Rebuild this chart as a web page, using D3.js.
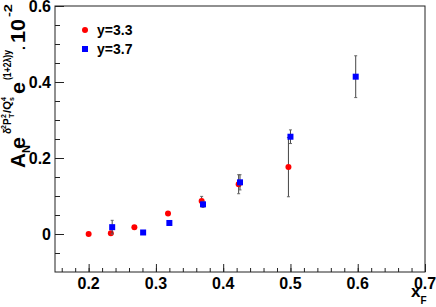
<!DOCTYPE html>
<html>
<head>
<meta charset="utf-8">
<script src="https://cdn.jsdelivr.net/npm/d3@7"></script>
<style>
  html, body { margin: 0; padding: 0; background: #fff; }
  svg { display: block; font-family: "Liberation Sans", Arial, sans-serif; font-weight: bold; }
</style>
</head>
<body>
<div id="chart"></div>
<script>
// values
const seriesNames = ["y=3.3", "y=3.7"]
const redX = [0.200, 0.233, 0.268, 0.318, 0.368, 0.423, 0.497]
const redY = [0.000, 0.002, 0.018, 0.054, 0.087, 0.131, 0.176]
const redErr = [0.003, 0.004, 0.004, 0.005, 0.012, 0.025, 0.078]
const blueX = [0.235, 0.281, 0.320, 0.370, 0.425, 0.500, 0.597]
const blueY = [0.018, 0.004, 0.029, 0.078, 0.136, 0.256, 0.414]
const blueErr = [0.018, 0.004, 0.005, 0.008, 0.020, 0.018, 0.055]
const xTicks = [0.2, 0.3, 0.4, 0.5, 0.6, 0.7]
const yTicks = [0, 0.2, 0.4, 0.6]

const W = 436, H = 307
const margin = { top: 6, right: 11, bottom: 35, left: 55 }

const svg = d3.select("#chart").append("svg")
  .attr("width", W)
  .attr("height", H)

const x = d3.scaleLinear().domain([0.15, 0.7]).range([margin.left, W - margin.right])
const y = d3.scaleLinear().domain([-0.1, 0.6]).range([H - margin.bottom, margin.top])

const x0 = margin.left, x1 = W - margin.right
const y0 = H - margin.bottom, y1 = margin.top

// frame
svg.append("rect")
  .attr("x", x0).attr("y", y1)
  .attr("width", x1 - x0).attr("height", y0 - y1)
  .attr("fill", "none").attr("stroke", "#222").attr("stroke-width", 1)

// x axis: ticks inside, major 0.1, minor 0.02
svg.append("g").attr("class", "x-minor").attr("transform", `translate(0,${y0})`)
  .call(d3.axisBottom(x).tickValues(d3.range(0.16, 0.7001, 0.02)).tickSizeInner(-4).tickSizeOuter(0).tickFormat(""))
svg.append("g").attr("class", "x-major").attr("transform", `translate(0,${y0})`)
  .call(d3.axisBottom(x).tickValues(xTicks).tickSizeInner(-8).tickSizeOuter(0).tickFormat(""))

// y axis: major 0.2, minor 0.05
svg.append("g").attr("class", "y-minor").attr("transform", `translate(${x0},0)`)
  .call(d3.axisLeft(y).tickValues(d3.range(-0.05, 0.6001, 0.05)).tickSizeInner(-5).tickSizeOuter(0).tickFormat(""))
svg.append("g").attr("class", "y-major").attr("transform", `translate(${x0},0)`)
  .call(d3.axisLeft(y).tickValues(yTicks).tickSizeInner(-9).tickSizeOuter(0).tickFormat(""))

svg.selectAll(".x-minor path, .x-major path, .y-minor path, .y-major path").remove()
svg.selectAll(".tick line").attr("stroke", "#222").attr("stroke-width", 1)

// tick labels
svg.append("g").selectAll("text")
  .data(xTicks).join("text")
  .attr("x", d => x(d))
  .attr("y", 289)
  .attr("text-anchor", "middle")
  .attr("font-size", 16)
  .text(d => d3.format(".1f")(d))

svg.append("g").selectAll("text")
  .data(yTicks).join("text")
  .attr("x", 51)
  .attr("y", d => y(d) + 6)
  .attr("text-anchor", "end")
  .attr("font-size", 16)
  .text(d => d === 0 ? "0" : d3.format(".1f")(d))

// x title
const xt = svg.append("text").attr("x", 411).attr("y", 297).attr("font-size", 17)
xt.append("tspan").text("x")
xt.append("tspan").attr("font-size", 10).attr("dy", 7).text("F")

// y title: pieces placed along the rotated axis (start = lower end, reads upward)
const ytitle = svg.append("g")
function piece(txt, yStart, xBase, size, len) {
  const t = ytitle.append("text")
    .attr("transform", `translate(${xBase},${yStart}) rotate(-90)`)
    .attr("font-size", size)
    .text(txt)
  if (len) t.attr("textLength", len).attr("lengthAdjust", "spacingAndGlyphs")
}
piece("A", 168, 25, 20, 15)
piece("N", 153, 30, 11)
piece("e", 149, 25, 20, 12)
piece("δ", 134, 10.5, 10)
piece("2", 129, 5.5, 7)
piece("P", 125, 10.5, 10)
piece("2", 118, 5.5, 7)
piece("T", 118, 13.5, 7)
piece("/Q", 113, 10.5, 10, 12)
piece("4", 101, 5.5, 7)
piece("s", 101, 13.5, 7)
piece("e", 94, 25, 20, 12)
piece("(1+2λ)y", 80, 10.5, 10, 30)
piece(".", 50, 25, 14)
piece("10", 43, 25, 20, 24)
piece("-2", 17, 12, 11, 13)

// data
const series = [
  { name: seriesNames[0], xs: redX, ys: redY, errs: redErr, color: "#ff0000", shape: "circle" },
  { name: seriesNames[1], xs: blueX, ys: blueY, errs: blueErr, color: "#0000ff", shape: "square" }
]

const plot = svg.append("g")
series.forEach(s => {
  const pts = s.xs.map((v, i) => ({ x: v, y: s.ys[i], e: s.errs[i] }))
  const g = plot.append("g")
  g.selectAll("line.err").data(pts).join("line")
    .attr("class", "err")
    .attr("x1", d => x(d.x)).attr("x2", d => x(d.x))
    .attr("y1", d => y(d.y + d.e)).attr("y2", d => y(d.y - d.e))
    .attr("stroke", "#444").attr("stroke-width", 1)
  ;["top", "bot"].forEach(k => {
    g.selectAll("line.cap-" + k).data(pts).join("line")
      .attr("class", "cap-" + k)
      .attr("x1", d => x(d.x) - 1.5).attr("x2", d => x(d.x) + 1.5)
      .attr("y1", d => y(k === "top" ? d.y + d.e : d.y - d.e))
      .attr("y2", d => y(k === "top" ? d.y + d.e : d.y - d.e))
      .attr("stroke", "#666").attr("stroke-width", 1)
  })
  if (s.shape === "circle") {
    g.selectAll("circle").data(pts).join("circle")
      .attr("cx", d => x(d.x)).attr("cy", d => y(d.y)).attr("r", 3)
      .attr("fill", s.color)
  } else {
    g.selectAll("rect").data(pts).join("rect")
      .attr("x", d => x(d.x) - 3).attr("y", d => y(d.y) - 3)
      .attr("width", 6).attr("height", 6)
      .attr("fill", s.color)
  }
})

// legend
const legend = svg.append("g")
series.forEach((s, i) => {
  const ly = 30 + i * 19
  if (s.shape === "circle") {
    legend.append("circle").attr("cx", 85).attr("cy", ly).attr("r", 3).attr("fill", s.color)
  } else {
    legend.append("rect").attr("x", 82).attr("y", ly - 3).attr("width", 6).attr("height", 6).attr("fill", s.color)
  }
  legend.append("text").attr("x", 97).attr("y", ly + 5).attr("font-size", 14).text(s.name)
})
</script>
</body>
</html>
